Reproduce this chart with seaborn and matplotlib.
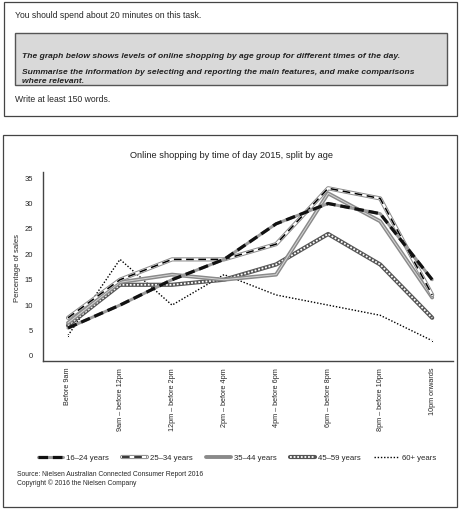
import matplotlib
matplotlib.use('Agg')
import matplotlib.pyplot as plt
import seaborn as sns
from matplotlib.lines import Line2D
from matplotlib.patches import Rectangle
from matplotlib.legend_handler import HandlerTuple

# %% data
times = ['Before 9am', '9am – before 12pm', '12pm – before 2pm', '2pm – before 4pm',
         '4pm – before 6pm', '6pm – before 8pm', '8pm – before 10pm', '10pm onwards']
age16_24 = [5.5, 10, 15, 19, 26, 30, 28, 15]
age25_34 = [7.5, 15, 19, 19, 22, 33, 31, 12]
age35_44 = [6.5, 14.5, 16, 15, 16, 32, 26.5, 11.5]
age45_59 = [6, 14, 14, 15, 18, 24, 18, 7.5]
age60 = [4, 19, 10, 16, 12, 10, 8, 3]
yticks = [0, 5, 10, 15, 20, 25, 30, 35]
legendLabels = ['16–24 years', '25–34 years', '35–44 years', '45–59 years', '60+ years']

# %% setup
sns.set_style('white')
plt.rcParams['font.family'] = ['Liberation Sans', 'DejaVu Sans']
W, H = 459, 512
fig = plt.figure(figsize=(W / 100, H / 100), dpi=100)

def fx(px): return px / W
def fy(py): return 1 - py / H

# boxes
fig.patches.append(Rectangle((fx(4), fy(116)), fx(453), 114 / H, transform=fig.transFigure,
                             fill=False, ec='#444444', lw=0.9))
fig.patches.append(Rectangle((fx(15), fy(85)), fx(432), 52 / H, transform=fig.transFigure,
                             fc='#d9d9d9', ec='#555555', lw=1.0))
fig.patches.append(Rectangle((fx(3), fy(507)), fx(454), 372 / H, transform=fig.transFigure,
                             fill=False, ec='#444444', lw=0.9))
fig.text(fx(15), fy(15), 'You should spend about 20 minutes on this task.', fontsize=6.2, va='center')
boldTxt = dict(fontsize=6.1, style='italic', weight='bold', va='center', color='#222222')
fig.text(fx(22), fy(57), 'The graph below shows levels of online shopping by age group for different times of the day.', **boldTxt)
fig.text(fx(22), fy(73), 'Summarise the information by selecting and reporting the main features, and make comparisons', **boldTxt)
fig.text(fx(22), fy(81.5), 'where relevant.', **boldTxt)
fig.text(fx(15), fy(100), 'Write at least 150 words.', fontsize=6.2, va='center')

# %% chart
ax = fig.add_axes([fx(43), fy(361), fx(453) - fx(43), (361 - 172) / H])
x = list(range(len(times)))

sns.lineplot(x=x, y=age60, ax=ax, color='black', lw=1.0, linestyle=(0, (1, 1.3)),
             marker='s', markersize=2, markevery=[0, 7])
sns.lineplot(x=x, y=age45_59, ax=ax, color='#555555', lw=3.0)
sns.lineplot(x=x, y=age45_59, ax=ax, color='white', lw=1.3, linestyle=(0, (1, 1)))
sns.lineplot(x=x, y=age35_44, ax=ax, color='#8a8a8a', lw=2.8)
sns.lineplot(x=x, y=age35_44, ax=ax, color='#d6d6d6', lw=0.7)
sns.lineplot(x=x, y=age25_34, ax=ax, color='#8a8a8a', lw=3.0)
sns.lineplot(x=x, y=age25_34, ax=ax, color='white', lw=1.6)
sns.lineplot(x=x, y=age25_34, ax=ax, color='black', lw=1.1, linestyle=(0, (5, 3)))
sns.lineplot(x=x, y=age16_24, ax=ax, color='#9a9a9a', lw=2.2)
sns.lineplot(x=x, y=age16_24, ax=ax, color='#111111', lw=2.3, linestyle=(0, (3, 1.5)))

ax.set_xlim(-0.48, 7.4)
ax.set_ylim(-1, 36.2)
ax.set_xticks(x)
ax.set_xticklabels(times, rotation=90, va='top', ha='center', fontsize=5.2,
                   family=['Liberation Sans Narrow', 'Liberation Sans', 'DejaVu Sans'])
ax.set_yticks(yticks)
ax.set_yticklabels([str(v) for v in yticks], fontsize=5.5)
ax.tick_params(axis='both', length=0)
ax.tick_params(axis='x', pad=5)
ax.tick_params(axis='y', pad=7)
sns.despine(ax=ax)
for s in ['left', 'bottom']:
    ax.spines[s].set_color('#444444')
    ax.spines[s].set_linewidth(1.0)
ax.set_xlabel('')
ax.set_ylabel('')
fig.text(fx(18), fy(268), 'Percentage of sales', fontsize=5.5, rotation=90, va='center', ha='center')
fig.text(fx(231), fy(156), 'Online shopping by time of day 2015, split by age', fontsize=6.7,
         ha='center', va='center', color='#222222')

# %% legend
h1 = (Line2D([], [], color='#9a9a9a', lw=2.2), Line2D([], [], color='#111111', lw=2.3, linestyle=(0, (3, 1.5))))
h2 = (Line2D([], [], color='#8a8a8a', lw=3.0), Line2D([], [], color='white', lw=1.6),
      Line2D([], [], color='black', lw=1.1, linestyle=(0, (5, 3))))
h3 = (Line2D([], [], color='#8a8a8a', lw=2.8),)
h4 = (Line2D([], [], color='#555555', lw=3.0), Line2D([], [], color='white', lw=1.3, linestyle=(0, (1, 1))))
h5 = (Line2D([], [], color='black', lw=1.0, linestyle=(0, (1, 1.3))),)
fig.legend([h1, h2, h3, h4, h5], legendLabels, loc='center', bbox_to_anchor=(fx(237), fy(458)),
           ncol=5, frameon=False, fontsize=5.6, handlelength=3.2, handletextpad=0.4, columnspacing=1.7,
           handler_map={tuple: HandlerTuple(ndivide=1, pad=0)})

fig.text(fx(17), fy(475), 'Source: Nielsen Australian Connected Consumer Report 2016', fontsize=4.9, va='center')
fig.text(fx(17), fy(483), 'Copyright © 2016 the Nielsen Company', fontsize=4.9, va='center')

fig.savefig('out.png', dpi=100)
